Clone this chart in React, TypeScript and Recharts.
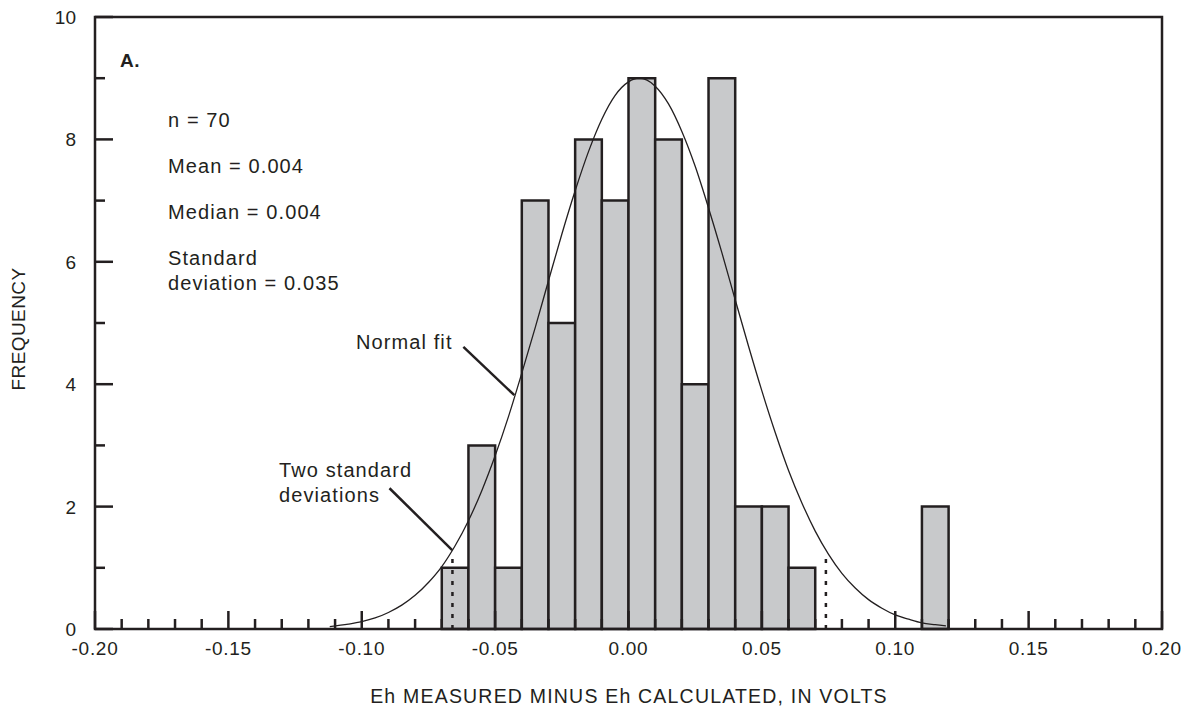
import React from 'react';
import { ComposedChart, Line, XAxis, YAxis, ReferenceArea, ReferenceLine } from 'recharts';

// histogram bins (left edge, volts) and counts
const binStarts = [-0.07, -0.06, -0.05, -0.04, -0.03, -0.02, -0.01, 0.0, 0.01, 0.02, 0.03, 0.04, 0.05, 0.06, 0.11];
const binCounts = [1, 3, 1, 7, 5, 8, 7, 9, 8, 4, 9, 2, 2, 1, 2];
const binWidth = 0.01;

// normal fit curve
const fitX = [
  -0.112, -0.105, -0.1, -0.095, -0.09, -0.085, -0.08, -0.075, -0.07, -0.065, -0.06, -0.055,
  -0.05, -0.045, -0.04, -0.035, -0.03, -0.025, -0.02, -0.015, -0.01, -0.005, 0, 0.004,
  0.01, 0.015, 0.02, 0.025, 0.03, 0.035, 0.04, 0.045, 0.05, 0.055, 0.06, 0.065,
  0.07, 0.075, 0.08, 0.085, 0.09, 0.095, 0.1, 0.105, 0.11, 0.115, 0.119,
];
const fitY = [
  0.04, 0.08, 0.12, 0.18, 0.27, 0.39, 0.55, 0.76, 1.02, 1.36, 1.77, 2.26,
  2.83, 3.47, 4.18, 4.92, 5.69, 6.45, 7.16, 7.8, 8.33, 8.72, 8.94, 9.0,
  8.87, 8.58, 8.13, 7.56, 6.88, 6.15, 5.38, 4.62, 3.89, 3.21, 2.59, 2.06,
  1.6, 1.22, 0.91, 0.67, 0.48, 0.34, 0.23, 0.16, 0.1, 0.07, 0.05,
];

// mean +/- two standard deviations
const sdMarks = [-0.066, 0.074];
const sdMarkTop = 1.25;

const xDomain = [-0.2, 0.2];
const yDomain = [0, 10];
const xTicks = Array.from({ length: 41 }, (_, i) => Math.round((-0.2 + i * 0.01) * 100) / 100);
const yTicks = [0, 1, 2, 3, 4, 5, 6, 7, 8, 9, 10];

const fitData = fitX.map((x, i) => ({ x, y: fitY[i] }));

const ink = '#231f20';
const barFill = '#c8c9cb';
const font = '"Liberation Sans", Arial, sans-serif';

const isMajorX = (v: number) => Math.round(v * 100) % 5 === 0;
const isMajorY = (v: number) => v % 2 === 0;

const BottomTick = (p: any) => {
  const v = p.payload.value;
  const major = isMajorX(v);
  return (
    <g>
      <line x1={p.x} x2={p.x} y1={p.y} y2={p.y - (major ? 18 : 10)} stroke={ink} strokeWidth={2.5} />
      {major && (
        <text x={p.x} y={p.y + 26} textAnchor="middle" fontSize={19} letterSpacing={0.7} fill={ink} fontFamily={font}>
          {v.toFixed(2)}
        </text>
      )}
    </g>
  );
};

const TopTick = (p: any) => {
  const major = isMajorX(p.payload.value);
  return <line x1={p.x} x2={p.x} y1={p.y} y2={p.y + (major ? 20 : 11)} stroke={ink} strokeWidth={2.5} />;
};

const LeftTick = (p: any) => {
  const v = p.payload.value;
  const major = isMajorY(v);
  return (
    <g>
      <line x1={p.x} x2={p.x + (major ? 18 : 10)} y1={p.y} y2={p.y} stroke={ink} strokeWidth={2.5} />
      {major && (
        <text x={p.x - 19} y={p.y + 7} textAnchor="end" fontSize={19} fill={ink} fontFamily={font}>
          {v}
        </text>
      )}
    </g>
  );
};

const RightTick = (p: any) => {
  const major = isMajorY(p.payload.value);
  return <line x1={p.x} x2={p.x - (major ? 19 : 10)} y1={p.y} y2={p.y} stroke={ink} strokeWidth={2.5} />;
};

export default function App() {
  const txt = { fontFamily: font, fontSize: 20, letterSpacing: 1.1, fill: ink };
  return (
    <div style={{ position: 'absolute', left: 0, top: 0, width: 1183, height: 709, background: '#fff' }}>
      <ComposedChart width={1183} height={709} margin={{ top: 17, right: 21, bottom: 0, left: 0 }}>
        <XAxis
          xAxisId={0}
          dataKey="x"
          type="number"
          domain={xDomain}
          ticks={xTicks}
          interval={0}
          height={80}
          tickSize={0}
          tickMargin={0}
          tickLine={false}
          axisLine={false}
          tick={BottomTick}
        />
        <XAxis
          xAxisId="top"
          orientation="top"
          dataKey="x"
          type="number"
          domain={xDomain}
          ticks={xTicks}
          interval={0}
          height={0}
          tickSize={0}
          tickMargin={0}
          tickLine={false}
          axisLine={false}
          tick={TopTick}
        />
        <YAxis
          yAxisId={0}
          type="number"
          domain={yDomain}
          ticks={yTicks}
          interval={0}
          width={95}
          tickSize={0}
          tickMargin={0}
          tickLine={false}
          axisLine={false}
          tick={LeftTick}
        />
        <YAxis
          yAxisId="right"
          orientation="right"
          type="number"
          domain={yDomain}
          ticks={yTicks}
          interval={0}
          width={0}
          tickSize={0}
          tickMargin={0}
          tickLine={false}
          axisLine={false}
          tick={RightTick}
        />
        {binStarts.map((b, i) => (
          <ReferenceArea
            key={b}
            x1={b}
            x2={b + binWidth}
            y1={0}
            y2={binCounts[i]}
            fill={barFill}
            fillOpacity={1}
            stroke={ink}
            strokeWidth={2.5}
          />
        ))}
        {/* plot frame */}
        <ReferenceArea
          x1={xDomain[0]}
          x2={xDomain[1]}
          y1={yDomain[0]}
          y2={yDomain[1]}
          fill="none"
          stroke={ink}
          strokeWidth={2.5}
          ifOverflow="visible"
        />
        {sdMarks.map((m) => (
          <ReferenceLine
            key={m}
            segment={[{ x: m, y: 0 }, { x: m, y: sdMarkTop }]}
            stroke={ink}
            strokeWidth={2.5}
            strokeDasharray="4 7"
          />
        ))}
        <ReferenceLine segment={[{ x: -0.0619, y: 4.61 }, { x: -0.0428, y: 3.82 }]} stroke={ink} strokeWidth={2.5} />
        <ReferenceLine segment={[{ x: -0.0896, y: 2.3 }, { x: -0.0661, y: 1.29 }]} stroke={ink} strokeWidth={2.5} />
        <Line
          data={fitData}
          dataKey="y"
          type="monotone"
          stroke={ink}
          strokeWidth={1.3}
          dot={false}
          activeDot={false}
          isAnimationActive={false}
        />
      </ComposedChart>
      <svg width={1183} height={709} style={{ position: 'absolute', left: 0, top: 0, pointerEvents: 'none' }}>
        <text x={120} y={67} fontFamily={font} fontSize={19} fontWeight="bold" fill={ink} letterSpacing={0.5}>A.</text>
        <text x={168} y={127} {...txt}>n = 70</text>
        <text x={168} y={173} {...txt}>Mean = 0.004</text>
        <text x={168} y={219} {...txt}>Median = 0.004</text>
        <text x={168} y={265} {...txt}>Standard</text>
        <text x={168} y={290} {...txt}>deviation = 0.035</text>
        <text x={356} y={349} {...txt}>Normal fit</text>
        <text x={279} y={477} {...txt}>Two standard</text>
        <text x={279} y={502} {...txt}>deviations</text>
        <text
          transform="translate(25 329) rotate(-90)"
          textAnchor="middle"
          fontFamily={font}
          fontSize={19}
          letterSpacing={0.4}
          fill={ink}
        >
          FREQUENCY
        </text>
        <text x={629} y={703} textAnchor="middle" fontFamily={font} fontSize={19.5} letterSpacing={1.2} fill={ink}>
          Eh MEASURED MINUS Eh CALCULATED, IN VOLTS
        </text>
      </svg>
    </div>
  );
}
